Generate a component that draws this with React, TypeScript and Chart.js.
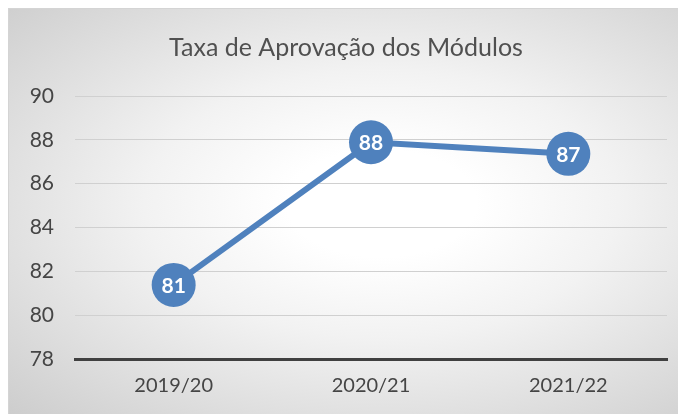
import React, { useEffect, useRef } from "react";
import { Chart, registerables } from "chart.js";

Chart.register(...registerables);

const categories = ["2019/20", "2020/21", "2021/22"];
const values = [81.38, 87.89, 87.36];
const labels = ["81", "88", "87"];
const yMin = 78;
const yMax = 90;
const yStep = 2;

const FONT = "Lato, 'Open Sans', sans-serif";
const BLUE = "#4f81bd";

const pointLabels = {
  id: "pointLabels",
  afterDatasetsDraw(chart: any) {
    const ctx = chart.ctx;
    const meta = chart.getDatasetMeta(0);
    ctx.save();
    ctx.fillStyle = "#ffffff";
    ctx.font = `bold 21px ${FONT}`;
    ctx.textAlign = "center";
    ctx.textBaseline = "middle";
    meta.data.forEach((pt: any, i: number) => {
      ctx.fillText(labels[i], pt.x, pt.y + 1);
    });
    ctx.restore();
  },
};

export default function App() {
  const ref = useRef<HTMLCanvasElement>(null);
  useEffect(() => {
    document.body.style.overflow = "hidden";
    const chart = new Chart(ref.current!, {
      type: "line",
      data: {
        labels: categories,
        datasets: [
          {
            data: values,
            borderColor: BLUE,
            borderWidth: 6,
            backgroundColor: BLUE,
            pointBackgroundColor: BLUE,
            pointBorderColor: BLUE,
            pointBorderWidth: 0,
            pointRadius: 22,
            pointHoverRadius: 22,
            tension: 0,
            clip: false as any,
          },
        ],
      },
      options: {
        animation: false,
        responsive: false,
        events: [],
        layout: { autoPadding: false, padding: { left: 16, right: 19, top: 0, bottom: 0 } },
        plugins: {
          legend: { display: false },
          tooltip: { enabled: false },
          title: {
            display: true,
            text: "Taxa de Aprovação dos Módulos",
            color: "#505050",
            font: { family: FONT, size: 25, weight: "normal" },
            padding: { top: 24, bottom: 33 },
          },
        },
        scales: {
          x: {
            offset: true,
            grid: { display: false, drawTicks: false },
            border: { display: true, color: "#404040", width: 3 },
            ticks: {
              color: "#454545",
              font: { family: FONT, size: 20 },
              padding: 15,
            },
            afterFit(scale: any) {
              scale.height = 55;
              scale.paddingLeft = 0;
              scale.paddingRight = 0;
            },
          },
          y: {
            min: yMin,
            max: yMax,
            grid: { color: "#d0d0d0", lineWidth: 1, drawTicks: false },
            border: { display: false },
            ticks: {
              stepSize: yStep,
              color: "#454545",
              font: { family: FONT, size: 21 },
              padding: 21,
            },
            afterFit(scale: any) {
              scale.width = 50;
              scale.paddingLeft = 0;
              scale.paddingRight = 0;
            },
          },
        },
      },
      plugins: [pointLabels],
    });
    return () => chart.destroy();
  }, []);

  return (
    <div
      style={{
        width: 678,
        height: 406,
        boxSizing: "border-box",
        borderTop: "1px solid #d4d4d4",
        borderLeft: "1px solid #d4d4d4",
        background:
          "radial-gradient(ellipse farthest-corner at 55% 48%, #ffffff 18%, #f2f2f2 45%, #cdcdcd 100%)",
        position: "relative",
      }}
    >
      <canvas
        ref={ref}
        width={677}
        height={405}
        style={{ position: "absolute", left: 0, top: 0, width: 677, height: 405 }}
      />
    </div>
  );
}
